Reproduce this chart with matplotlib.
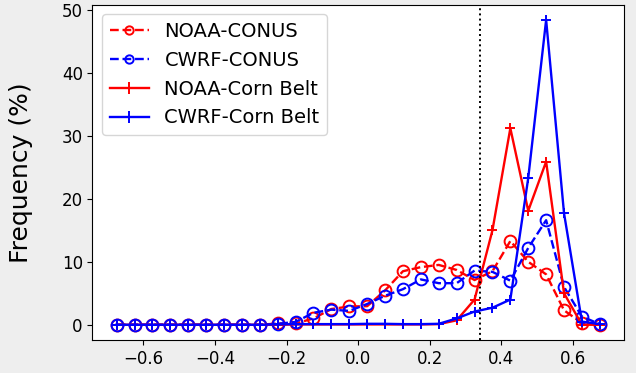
import matplotlib
matplotlib.use("Agg")
import matplotlib.pyplot as plt

bin_centers = [-0.675, -0.625, -0.575, -0.525, -0.475, -0.425, -0.375, -0.325,
               -0.275, -0.225, -0.175, -0.125, -0.075, -0.025, 0.025, 0.075,
               0.125, 0.175, 0.225, 0.275, 0.325, 0.375, 0.425, 0.475,
               0.525, 0.575, 0.625, 0.675]

noaa_conus = [0, 0, 0, 0, 0, 0, 0, 0, 0, 0.2, 0.2, 1.0, 2.5, 2.9, 2.95, 5.45,
              8.5, 9.15, 9.5, 8.7, 7.1, 8.5, 13.3, 10.0, 8.0, 2.3, 0.25, 0.0]
cwrf_conus = [0, 0, 0, 0, 0, 0, 0, 0, 0, 0.15, 0.45, 1.9, 2.4, 2.2, 3.3, 4.6,
              5.65, 7.2, 6.6, 6.6, 8.6, 8.4, 7.0, 12.2, 16.6, 6.0, 1.3, 0.1]
noaa_corn = [0, 0, 0, 0, 0, 0, 0, 0, 0, 0, 0.05, 0.05, 0.05, 0.05, 0.05, 0.05,
             0.05, 0.05, 0.1, 0.7, 4.0, 15.0, 31.2, 18.1, 25.9, 5.0, 0.0, 0.0]
cwrf_corn = [0, 0, 0, 0, 0, 0, 0, 0, 0, 0.05, 0.1, 0.1, 0.1, 0.1, 0.15, 0.15,
             0.1, 0.1, 0.15, 1.0, 2.1, 2.7, 4.0, 23.3, 48.4, 17.7, 0.5, 0.1]

labels = ["NOAA-CONUS", "CWRF-CONUS", "NOAA-Corn Belt", "CWRF-Corn Belt"]
threshold = 0.34

fig = plt.figure(figsize=(6.36, 3.73), dpi=100, facecolor="#eeeeee")
ax = fig.add_axes([0.1454, 0.0885, 0.8357, 0.8989])
ax.set_facecolor("white")

ax.plot(bin_centers, noaa_conus, color="red", ls="--", lw=1.7, marker="o",
        ms=8.5, mfc="none", mew=1.4, label=labels[0])
ax.plot(bin_centers, cwrf_conus, color="blue", ls="--", lw=1.7, marker="o",
        ms=8.5, mfc="none", mew=1.4, label=labels[1])
ax.plot(bin_centers, noaa_corn, color="red", ls="-", lw=1.7, marker="+",
        ms=7.5, mew=1.4, label=labels[2])
ax.plot(bin_centers, cwrf_corn, color="blue", ls="-", lw=1.7, marker="+",
        ms=7.5, mew=1.4, label=labels[3])
ax.axvline(threshold, color="black", ls=":", lw=1.4)

ax.set_xticks([-0.6, -0.4, -0.2, 0.0, 0.2, 0.4, 0.6])
ax.set_yticks([0, 10, 20, 30, 40, 50])
ax.tick_params(labelsize=12)
ax.set_ylabel("Frequency (%)", fontsize=18)
ax.yaxis.set_label_coords(-0.112, 0.5)

leg = ax.legend(loc="upper left", fontsize=14)
for i, h in enumerate(leg.legend_handles):
    h.set_markersize(6 if i < 2 else 9)

fig.savefig("out.png", dpi=100, facecolor=fig.get_facecolor())
